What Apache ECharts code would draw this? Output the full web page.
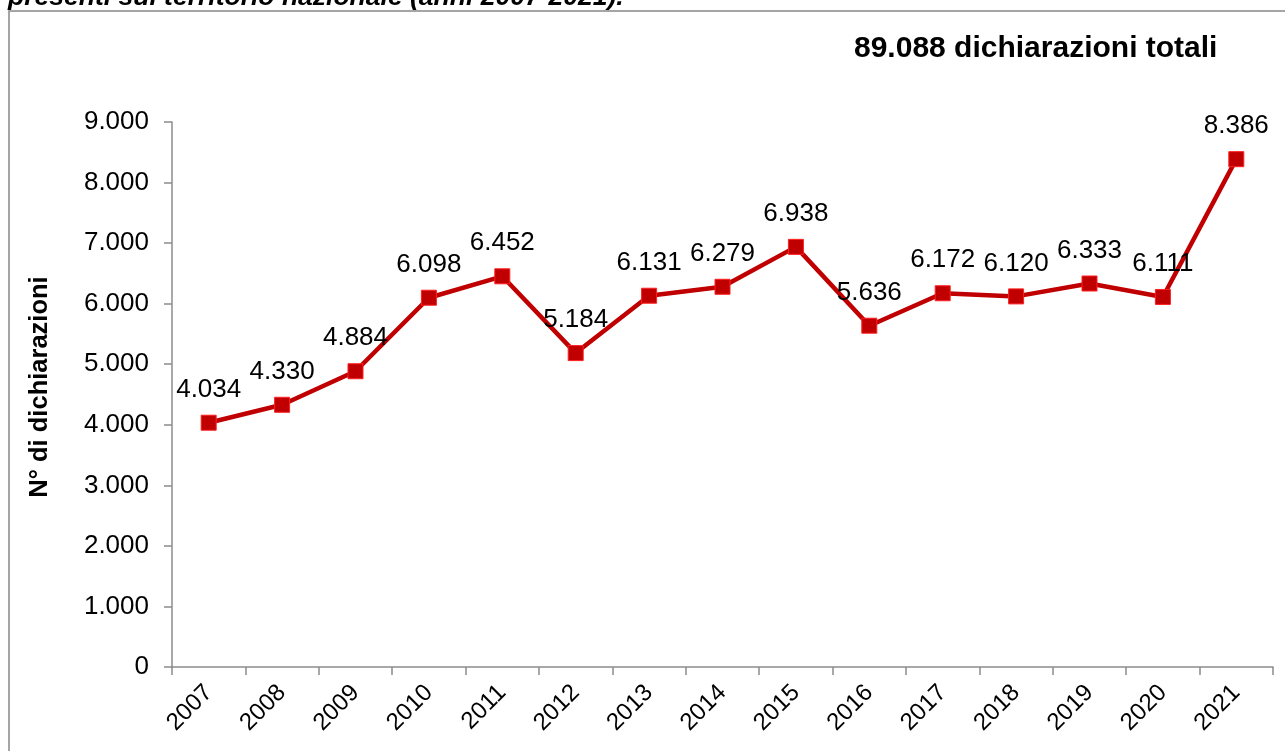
<!DOCTYPE html>
<html>
<head>
<meta charset="utf-8">
<style>
html,body{margin:0;padding:0;background:#fff;}
#c{width:1285px;height:751px;}
</style>
<script src="https://cdn.jsdelivr.net/npm/echarts@6/dist/echarts.min.js"></script>
</head>
<body>
<div id="c"></div>
<script>
const categories = ['2007','2008','2009','2010','2011','2012','2013','2014','2015','2016','2017','2018','2019','2020','2021'];
const values = [4034, 4330, 4884, 6098, 6452, 5184, 6131, 6279, 6938, 5636, 6172, 6120, 6333, 6111, 8386];
const titleText = '89.088 dichiarazioni totali';
const headerText = 'presenti sul territorio nazionale (anni 2007-2021).';
const yAxisName = 'N° di dichiarazioni';

function fmt(v){ return String(v).replace(/\B(?=(\d{3})+(?!\d))/g, '.'); }

const chart = echarts.init(document.getElementById('c'), null, {renderer:'canvas'});
const FONT = 'Liberation Sans, Arial, sans-serif';
chart.setOption({
  animation: false,
  backgroundColor: '#fff',
  textStyle: { fontFamily: FONT },
  title: {
    text: titleText,
    left: 849, top: 29,
    textStyle: { fontSize: 30, fontWeight: 'bold', color: '#000', fontFamily: FONT }
  },
  graphic: [
    { type: 'rect', shape: { x: 9, y: 11, width: 1400, height: 900 }, style: { fill: 'none', stroke: '#888', lineWidth: 1.5 }, z: -1 },
    { type: 'text', x: 8, y: -2, style: { text: headerText, font: 'italic bold 26.5px ' + FONT, fill: '#000', verticalAlign: 'middle' } },
    { type: 'text', x: 40, y: 387, rotation: Math.PI / 2, style: { text: yAxisName, font: 'bold 25.5px ' + FONT, fill: '#000', align: 'center', verticalAlign: 'middle' } }
  ],
  grid: { left: 172, right: 12, top: 122, bottom: 84 },
  xAxis: {
    type: 'category',
    data: categories,
    boundaryGap: true,
    axisLine: { lineStyle: { color: '#8c8c8c', width: 1.5 } },
    axisTick: { show: true, length: 8, alignWithLabel: false, lineStyle: { color: '#8c8c8c', width: 1.5 } },
    axisLabel: { rotate: 45, fontSize: 24, color: '#000', margin: 22, interval: 0, fontFamily: FONT },
    splitLine: { show: false }
  },
  yAxis: {
    type: 'value',
    min: 0, max: 9000, interval: 1000,
    axisLine: { show: true, lineStyle: { color: '#8c8c8c', width: 1.5 } },
    axisTick: { show: true, length: 8, lineStyle: { color: '#8c8c8c', width: 1.5 } },
    axisLabel: { fontSize: 26, color: '#000', margin: 23, formatter: v => fmt(v), fontFamily: FONT },
    splitLine: { show: false }
  },
  series: [{
    type: 'line',
    data: values,
    symbol: 'rect',
    symbolSize: 15,
    lineStyle: { color: '#C00000', width: 4.5 },
    itemStyle: { color: '#C00000', borderColor: '#FF2020', borderWidth: 1 },
    label: { show: true, position: 'top', distance: 12, fontSize: 26, color: '#000', formatter: p => fmt(p.value), fontFamily: FONT }
  }]
});
</script>
</body>
</html>
